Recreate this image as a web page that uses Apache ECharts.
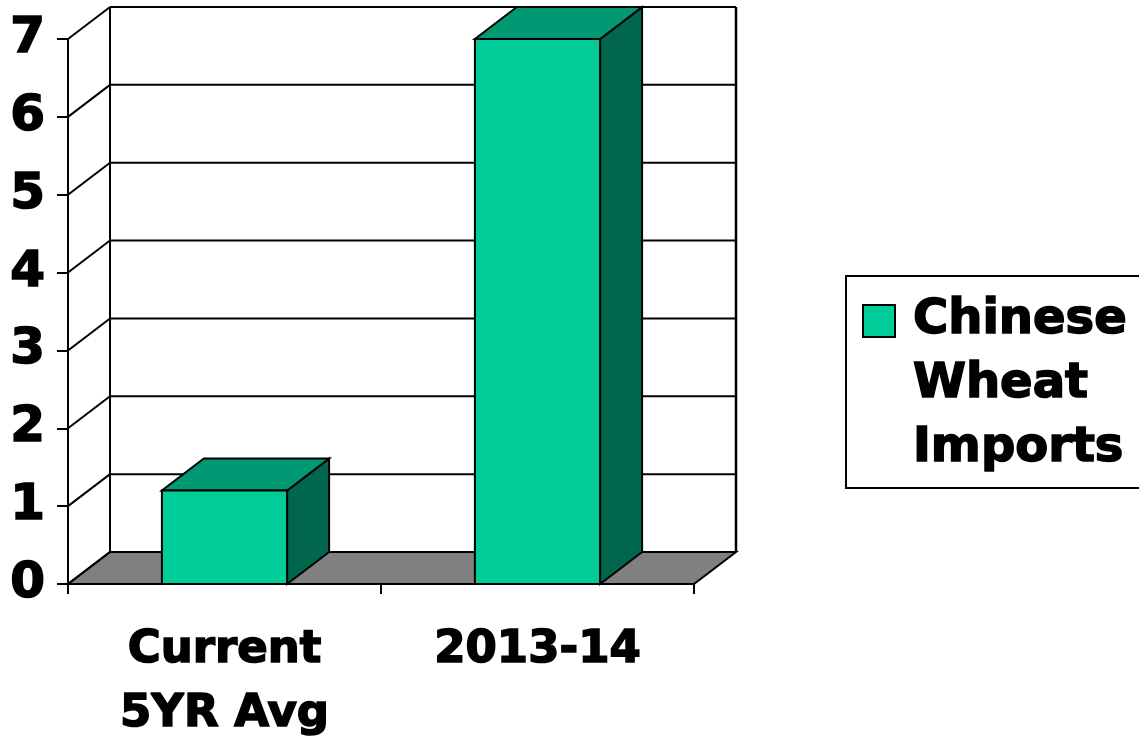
<!DOCTYPE html>
<html>
<head>
<meta charset="utf-8">
<script src="https://cdn.jsdelivr.net/npm/echarts@6/dist/echarts.min.js"></script>
<style>
  html, body { margin: 0; padding: 0; background: #ffffff; }
  #chart { width: 1139px; height: 748px; }
</style>
</head>
<body>
<div id="chart"></div>
<script>
// Chinese wheat imports: five-year average vs. 2013-14
const categories = ['Current\n5YR Avg', '2013-14'];
const imports = [1.2, 7.0];
const yTicks = [0, 1, 2, 3, 4, 5, 6, 7];
const seriesName = 'Chinese Wheat Imports';

// Pseudo-3D look: depth offset of the back plane in pixels
const DEPTH_X = 42;
const DEPTH_Y = -32;
const BAR_RATIO = 0.4;

const FACE = '#00CC99';
const TOP = '#009973';
const SIDE = '#00664D';
const FLOOR = '#808080';
const FONT = 'DejaVu Sans';

// heavy black lettering
const heavyText = {
  color: '#000',
  fontFamily: FONT,
  fontWeight: 'bold',
  textBorderColor: '#000',
  textBorderWidth: 1.6
};

const chart = echarts.init(document.getElementById('chart'), null, { renderer: 'canvas' });

// Walls, gridlines and floor of the 3D box
function renderFrame(params, api) {
  const cs = params.coordSys;
  const left = cs.x, right = cs.x + cs.width;
  const v = api.value(0);
  const y = api.coord([0, v])[1];
  const line = { stroke: '#000', lineWidth: 2 };
  const children = [];
  if (params.dataIndex === 0) {
    const yTop = api.coord([0, yTicks[yTicks.length - 1]])[1];
    children.push({
      type: 'polygon',
      shape: { points: [[left, y], [right, y], [right + DEPTH_X, y + DEPTH_Y], [left + DEPTH_X, y + DEPTH_Y]] },
      style: { fill: FLOOR, stroke: '#000', lineWidth: 2 }
    });
    children.push({
      type: 'line',
      shape: { x1: left + DEPTH_X, y1: y + DEPTH_Y, x2: left + DEPTH_X, y2: yTop + DEPTH_Y },
      style: { stroke: '#000', lineWidth: 2 }
    });
    children.push({
      type: 'line',
      shape: { x1: right + DEPTH_X, y1: y + DEPTH_Y, x2: right + DEPTH_X, y2: yTop + DEPTH_Y },
      style: { stroke: '#000', lineWidth: 2.5 }
    });
  } else {
    children.push({
      type: 'line',
      shape: { x1: left + DEPTH_X, y1: y + DEPTH_Y, x2: right + DEPTH_X, y2: y + DEPTH_Y },
      style: line
    });
  }
  children.push({
    type: 'line',
    shape: { x1: left, y1: y, x2: left + DEPTH_X, y2: y + DEPTH_Y },
    style: line
  });
  return { type: 'group', children: children };
}

// Box-shaped bar: front face, top and right side
function renderBar(params, api) {
  const ci = api.value(0);
  const v = api.value(1);
  const base = api.coord([ci, 0]);
  const top = api.coord([ci, v]);
  const bw = api.size([1, 0])[0] * BAR_RATIO;
  const x0 = base[0] - bw / 2, x1 = base[0] + bw / 2;
  const yb = base[1], yt = top[1];
  const edge = { stroke: '#000', lineWidth: 2, lineJoin: 'miter' };
  return {
    type: 'group',
    children: [
      {
        type: 'polygon',
        shape: { points: [[x1, yt], [x1, yb], [x1 + DEPTH_X, yb + DEPTH_Y], [x1 + DEPTH_X, yt + DEPTH_Y]] },
        style: Object.assign({ fill: SIDE }, edge)
      },
      {
        type: 'polygon',
        shape: { points: [[x0, yt], [x1, yt], [x1 + DEPTH_X, yt + DEPTH_Y], [x0 + DEPTH_X, yt + DEPTH_Y]] },
        style: Object.assign({ fill: TOP }, edge)
      },
      {
        type: 'rect',
        shape: { x: x0, y: yt, width: bw, height: yb - yt },
        style: Object.assign({ fill: FACE }, edge)
      }
    ]
  };
}

const option = {
  backgroundColor: '#ffffff',
  animation: false,
  grid: { left: 68, top: 39, width: 626, height: 545, containLabel: false },
  xAxis: {
    type: 'category',
    data: categories,
    boundaryGap: true,
    axisLine: { show: true, lineStyle: { color: '#000', width: 2 } },
    axisTick: { show: true, length: 10, lineStyle: { color: '#000', width: 2 } },
    axisLabel: Object.assign({
      margin: 34,
      fontSize: 45,
      lineHeight: 64,
      interval: 0
    }, heavyText),
    splitLine: { show: false }
  },
  yAxis: {
    type: 'value',
    min: 0,
    max: 7,
    interval: 1,
    axisLine: { show: true, lineStyle: { color: '#000', width: 2 } },
    axisTick: { show: true, length: 11, lineStyle: { color: '#000', width: 2 } },
    axisLabel: Object.assign({
      margin: 23,
      fontSize: 50
    }, heavyText),
    splitLine: { show: false }
  },
  legend: {
    data: [{ name: seriesName, icon: 'path://M0,0M0,16L32,16L32,48L0,48ZM45,192' }],
    left: 846,
    top: 276,
    orient: 'vertical',
    selectedMode: false,
    itemWidth: 45,
    itemHeight: 192,
    padding: [12, 30, 6, 16],
    borderColor: '#000',
    borderWidth: 2,
    backgroundColor: '#fff',
    itemStyle: { color: FACE, borderColor: '#000', borderWidth: 2 },
    formatter: function (name) { return name.split(' ').join('\n'); },
    textStyle: Object.assign({
      fontSize: 48,
      lineHeight: 64
    }, heavyText)
  },
  series: [
    {
      type: 'custom',
      name: 'frame',
      silent: true,
      z: 1,
      renderItem: renderFrame,
      encode: { y: 0 },
      data: yTicks.map(function (t) { return [t]; })
    },
    {
      type: 'custom',
      name: seriesName,
      z: 2,
      itemStyle: { color: FACE },
      renderItem: renderBar,
      encode: { x: 0, y: 1 },
      data: imports.map(function (v, i) { return [i, v]; })
    }
  ]
};

chart.setOption(option);
</script>
</body>
</html>
